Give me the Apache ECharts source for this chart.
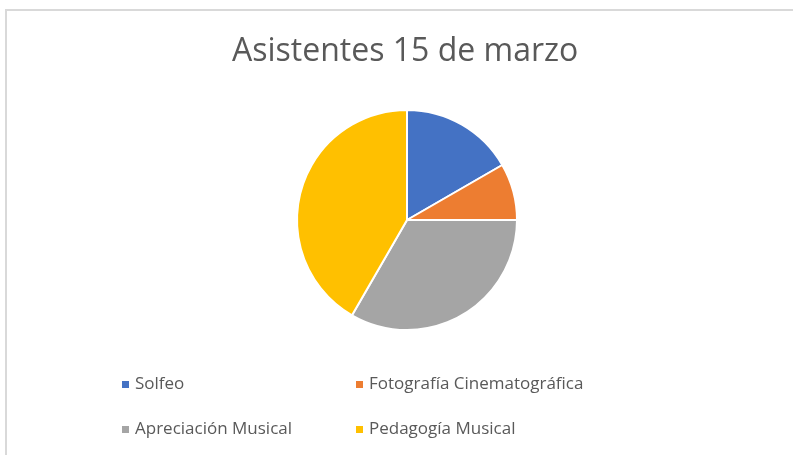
<!DOCTYPE html>
<html>
<head>
<meta charset="utf-8">
<script src="https://cdn.jsdelivr.net/npm/echarts@6/dist/echarts.min.js"></script>
<style>
  html, body { margin: 0; padding: 0; background: #fff; }
  #chart { width: 793px; height: 455px; }
</style>
</head>
<body>
<div id="chart"></div>
<script>
// Asistentes 15 de marzo
var categorias = ['Solfeo', 'Fotografía Cinematográfica', 'Apreciación Musical', 'Pedagogía Musical'];
var asistentes = [6, 3, 12, 15];
var colores = ['#4472c4', '#ed7d31', '#a5a5a5', '#ffc000'];

var myChart = echarts.init(document.getElementById('chart'));

var datos = [];
for (var i = 0; i < categorias.length; i++) {
    datos.push({ name: categorias[i], value: asistentes[i] });
}

var legendFont = { color: '#595959', fontSize: 17, fontFamily: 'Open Sans' };

var option = {
    color: colores,
    animation: false,
    title: {
        text: 'Asistentes 15 de marzo',
        left: 227,
        top: 31,
        textStyle: { color: '#595959', fontSize: 32, fontWeight: 'normal', fontFamily: 'Open Sans' }
    },
    legend: [{
        data: [categorias[0], categorias[2]],
        orient: 'vertical',
        left: 115,
        top: 371,
        itemWidth: 9,
        itemHeight: 9,
        itemGap: 28,
        icon: 'rect',
        textStyle: legendFont
    }, {
        data: [categorias[1], categorias[3]],
        orient: 'vertical',
        left: 349,
        top: 371,
        itemWidth: 9,
        itemHeight: 9,
        itemGap: 28,
        icon: 'rect',
        textStyle: legendFont
    }],
    graphic: [{
        type: 'polyline',
        shape: { points: [[6, 455], [6, 10], [793, 10]] },
        style: { stroke: '#d9d9d9', lineWidth: 2, fill: null }
    }],
    series: [{
        type: 'pie',
        center: [407, 220],
        radius: 110,
        startAngle: 90,
        clockwise: true,
        label: { show: false },
        labelLine: { show: false },
        itemStyle: { borderColor: '#fff', borderWidth: 2 },
        emphasis: { scale: false },
        data: datos
    }]
};
myChart.setOption(option);
</script>
</body>
</html>
